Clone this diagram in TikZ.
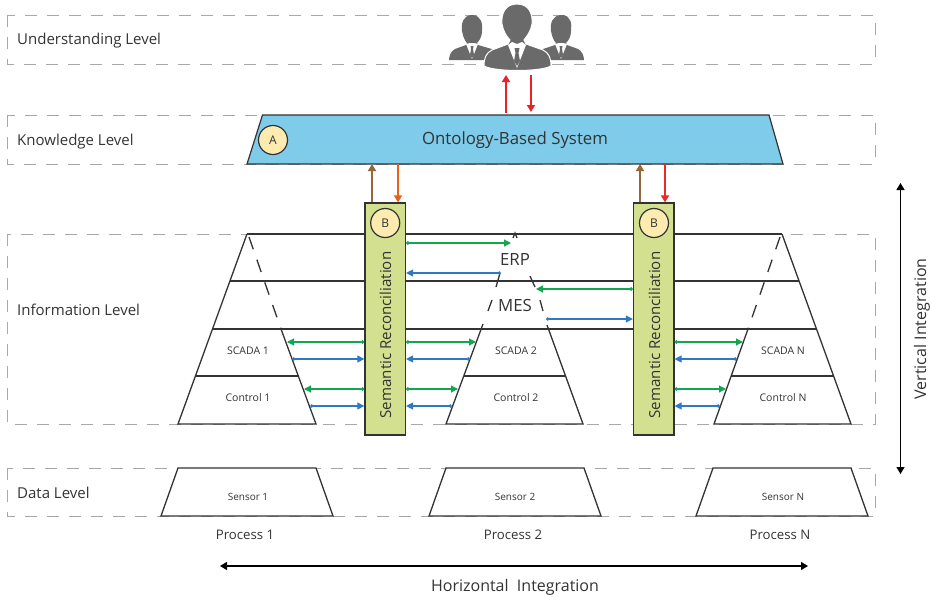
\documentclass[tikz,border=0pt]{standalone}
\usepackage{fontspec}
\setmainfont{Open Sans}
\usetikzlibrary{arrows.meta}
\definecolor{lvl}{HTML}{A8A8A8}
\definecolor{ink}{HTML}{333333}
\definecolor{skyb}{HTML}{7FCBEA}
\definecolor{recon}{HTML}{D2E08F}
\definecolor{badge}{HTML}{FDEBB0}
\definecolor{gr}{HTML}{12A650}
\definecolor{bl}{HTML}{2E79BF}
\definecolor{brn}{HTML}{96673C}
\definecolor{org}{HTML}{E8601C}
\definecolor{rd}{HTML}{E8212B}
\definecolor{ppl}{HTML}{6B6A6A}
\tikzset{
 level/.style={draw=lvl,line width=1pt,dash pattern=on 12pt off 10pt},
 lab/.style={font=\fontsize{15}{17}\selectfont,text=ink,inner sep=0pt},
 proc/.style={font=\fontsize{13.2}{15}\selectfont,text=ink,inner sep=0pt},
 axis/.style={font=\fontsize{16}{18}\selectfont,text=ink,inner sep=0pt},
 mid/.style={font=\fontsize{16.8}{19}\selectfont,text=ink,inner sep=0pt},
 strat/.style={font=\fontsize{16.8}{19}\selectfont,text=ink,inner sep=0pt},
 sem/.style={font=\fontsize{15.1}{17}\selectfont,text=ink,inner sep=0pt,rotate=90},
 tiny/.style={font=\fontsize{10.5}{12}\selectfont,text=ink,inner sep=0pt},
 edge/.style={draw=ink,line width=1.3pt},
 dashside/.style={draw=ink,line width=1.3pt,dash pattern=on 13pt off 11pt},
 greenarr/.style={draw=gr,line width=1.1pt,{Circle[length=3.5pt]}-{Triangle[length=7pt,width=7pt]}},
 bluearr/.style={draw=bl,line width=1.1pt,{Circle[length=3.5pt]}-{Triangle[length=7pt,width=7pt]}},
 big/.style={line width=1.7pt,-{Triangle[length=7pt,width=8pt]}},
 badgec/.style={circle,draw=ink,fill=badge,line width=1.2pt,minimum size=29pt,inner sep=0pt,font=\fontsize{12}{13}\selectfont,text=ink},
 reconbox/.style={draw=ink,fill=recon,line width=1.2pt,minimum width=40.5pt,minimum height=232pt,inner sep=0pt},
 axisarrow/.style={black,line width=1.2pt,{Triangle[length=7pt,width=8pt]}-{Triangle[length=7pt,width=8pt]}},
}
\begin{document}
\begin{tikzpicture}[x=1pt,y=-1pt]
\useasboundingbox (0,0) rectangle (930,597);
% levels
\draw[level] (7,15) rectangle (875,64);
\draw[level] (7,115) rectangle (875,164);
\draw[level] (7,234) rectangle (875,424);
\draw[level] (7,468) rectangle (875,516);
\node[lab,anchor=west] (l1) at (17,40.5) {Understanding Level};
\node[lab,anchor=west] (l2) at (17,141.5) {Knowledge Level};
\node[lab,anchor=west] (l3) at (17,310) {Information Level};
\node[lab,anchor=west] (l4) at (17,493) {Data Level};
% people
\fill[ppl] (472,15) .. controls (463,15) and (461,24) .. (462,31) .. controls (463,37) and (465,41) .. (467,43) -- (466,45) -- (455,49) .. controls (451,51) and (449,56) .. (449,60) -- (495,60) -- (495,50) -- (478,45) -- (477,43) .. controls (480,40) and (482,36) .. (482,31) .. controls (483,24) and (481,15) .. (472,15) -- cycle;
\fill[ppl] (561.5,15) .. controls (552,15) and (550,24) .. (551,31) .. controls (552,37) and (554,41) .. (556,43) -- (555,45) -- (540,50) -- (540,60) -- (584,60) .. controls (584,56) and (582,51) .. (578,49) -- (567,45) -- (566,43) .. controls (569,40) and (571,36) .. (571,31) .. controls (572,24) and (571,15) .. (561.5,15) -- cycle;
\fill[white] (466,44) -- (472,59) -- (478,44) -- (474,43) -- (470,43) -- cycle;
\fill[white] (555,44) -- (561,59) -- (567,44) -- (563,43) -- (559,43) -- cycle;
\fill[ppl] (470.5,46) -- (473.5,46) -- (473,49) -- (474,55) -- (472,58) -- (470,55) -- (471,49) -- cycle;
\fill[ppl] (559.5,46) -- (562.5,46) -- (562,49) -- (563,55) -- (561,58) -- (559,55) -- (560,49) -- cycle;
\draw[white,line width=1pt,fill=ppl] (517,4) .. controls (505,4) and (501,14) .. (502,24) .. controls (503,31) and (507,37) .. (510,40) -- (508,44) -- (492,50) .. controls (486,53) and (484,58) .. (484,66) .. controls (495,72) and (540,72) .. (551,66) .. controls (551,58) and (549,53) .. (543,50) -- (526,44) -- (524,40) .. controls (527,36) and (531,31) .. (532,24) .. controls (533,14) and (529,4) .. (517,4) -- cycle;
\fill[white] (508,45) -- (517,68) -- (526,45) -- (522,42) -- (517,44) -- (512,42) -- cycle;
\fill[ppl] (514.5,48) -- (519.5,48) -- (518.5,53) -- (520,61) -- (517,66) -- (514,61) -- (515.5,53) -- cycle;
% ontology
\draw[ink,fill=skyb,line width=1.2pt] (262.5,115) -- (769,115) -- (783,164) -- (247,164) -- cycle;
\node[mid] (ont) at (515,140.5) {Ontology-Based System};
\node[badgec] (A) at (273,140) {A};
% horizontal strata
\draw[edge] (247,234) -- (782,234);
\draw[edge] (230,281) -- (799,281);
\draw[edge] (213,329) -- (816,329);
% pyramid 1
\draw[edge] (247,234) -- (178,424) -- (316,424) -- (281,329);
\draw[dashside] (249,237) -- (281,329);
\draw[edge] (196,376) -- (299,376);
% pyramid 2
\draw[edge,draw=ink] (483,324) -- (446,424) -- (583,424) -- (547,325);
\draw[edge] (464,376) -- (566,376);
\draw[edge] (500,273) -- (496,287);
\draw[edge] (492,300) -- (488,311);
\draw[edge] (530,276) -- (535,287);
\draw[edge] (540,300) -- (543,311);
\draw[edge] (513,238) -- (515,233) -- (517,238);
% pyramid N
\draw[edge] (782,234) -- (851,424) -- (714,424) -- (748,329);
\draw[dashside] (780,237) -- (748,329);
\draw[edge] (731,376) -- (834,376);
% names
\node[tiny] (s1) at (248,351) {SCADA 1};
\node[tiny] (c1) at (248,398) {Control 1};
\node[tiny] (s2) at (516,351) {SCADA 2};
\node[tiny] (c2) at (516,398) {Control 2};
\node[tiny] (sn) at (783,351) {SCADA N};
\node[tiny] (cn) at (783,398) {Control N};
\node[strat] (erp) at (515,260) {ERP};
\node[strat] (mes) at (515,305.5) {MES};
% reconciliation
\node[reconbox] (r1) at (385.2,319) {};
\node[reconbox] (r2) at (653.7,319) {};
\node[badgec] (b1) at (385.2,223) {B};
\node[badgec] (b2) at (654,223) {B};
\node[sem] (t1) at (385.5,335) {Semantic Reconciliation};
\node[sem] (t2) at (654.5,335) {Semantic Reconciliation};
% named arrow ends
\foreach \n/\x/\y in {
 ga/511/243,ba/501/273,gb/536/289,bb/546/319,
 g1l/287/342,b1l/292/359,g2l/304/389,b2l/310/406,
 g1m/476/342,b1m/470/359,g2m/458/389,b2m/452/406,
 g1r/743/342,b1r/737/359,g2r/726/389,b2r/720/406}
 {\coordinate (\n) at (\x,\y);}
\draw[greenarr] (r1.east|-ga) -- (ga);
\draw[bluearr] (ba) -- (r1.east|-ba);
\draw[greenarr] (r2.west|-gb) -- (gb);
\draw[bluearr] (bb) -- (r2.west|-bb);
\draw[greenarr] (r1.west|-g1l) -- (g1l);
\draw[bluearr] (b1l) -- (r1.west|-b1l);
\draw[greenarr] (r1.west|-g2l) -- (g2l);
\draw[bluearr] (b2l) -- (r1.west|-b2l);
\draw[greenarr] (r1.east|-g1m) -- (g1m);
\draw[bluearr] (b1m) -- (r1.east|-b1m);
\draw[greenarr] (r1.east|-g2m) -- (g2m);
\draw[bluearr] (b2m) -- (r1.east|-b2m);
\draw[greenarr] (r2.east|-g1r) -- (g1r);
\draw[bluearr] (b1r) -- (r2.east|-b1r);
\draw[greenarr] (r2.east|-g2r) -- (g2r);
\draw[bluearr] (b2r) -- (r2.east|-b2r);
% links to ontology
\coordinate (o1) at (372,164);\coordinate (o2) at (398,164);
\coordinate (o3) at (640,164);\coordinate (o4) at (665,164);
\draw[big,brn] (o1|-r1.north) -- (o1);
\draw[big,org] (o2) -- (o2|-r1.north);
\draw[big,brn] (o3|-r2.north) -- (o3);
\draw[big,rd!85!org] (o4) -- (o4|-r2.north);
\coordinate (u1a) at (506,113);\coordinate (u1b) at (506,75);
\coordinate (u2a) at (531,75);\coordinate (u2b) at (531,112);
\draw[big,rd] (u1a) -- (u1b);
\draw[big,rd] (u2a) -- (u2b);
% data trapezoids
\draw[edge,fill=white] (178,468) -- (316,468) -- (333,516) -- (161,516) -- cycle;
\draw[edge,fill=white] (446,468) -- (584,468) -- (601,516) -- (429,516) -- cycle;
\draw[edge,fill=white] (713,468) -- (851,468) -- (868,516) -- (696,516) -- cycle;
\node[tiny,font=\fontsize{10}{12}\selectfont] (d1) at (248,497) {Sensor 1};
\node[tiny,font=\fontsize{10}{12}\selectfont] (d2) at (515,497) {Sensor 2};
\node[tiny,font=\fontsize{10}{12}\selectfont] (dn) at (783,497) {Sensor N};
\node[proc] (p1) at (245,535) {Process 1};
\node[proc] (p2) at (513,535) {Process 2};
\node[proc] (pn) at (780,535) {Process N};
% integration axes
\coordinate (v1) at (900.5,183);\coordinate (v2) at (900.5,474);
\coordinate (h1) at (220,566);\coordinate (h2) at (808,566);
\draw[axisarrow] (v1) -- (v2);
\draw[axisarrow] (h1) -- (h2);
\node[axis,rotate=90] (vt) at (922,329) {Vertical Integration};
\node[axis] (ht) at (515,587.5) {Horizontal\ \ Integration};
\end{tikzpicture}
\end{document}
